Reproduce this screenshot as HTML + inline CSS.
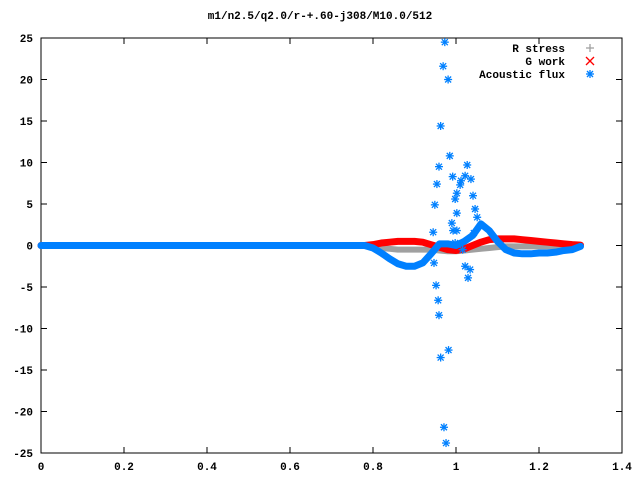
<!DOCTYPE html>
<html><head><meta charset="utf-8">
<style>
body{margin:0;background:#fff;}
svg{display:block;font-family:"Liberation Mono",monospace;font-size:11px;font-weight:bold;}
</style></head>
<body>
<svg id="chart" width="640" height="480" xmlns="http://www.w3.org/2000/svg">
<rect width="640" height="480" fill="#fff"/>
<text x="320" y="19" text-anchor="middle">m1/n2.5/q2.0/r-+.60-j308/M10.0/512</text>
<rect x="41" y="38" width="581" height="415" fill="none" stroke="#000" stroke-width="1"/>
<g id="axes"></g>
<g id="series"></g>
<g id="legend">
<text x="565" y="52" text-anchor="end">R stress</text>
<text x="565" y="65" text-anchor="end">G work</text>
<text x="565" y="78" text-anchor="end">Acoustic flux</text>
</g>
</svg>
<script>
const xTicks=[0,0.2,0.4,0.6,0.8,1,1.2,1.4];
const xTickLabels=["0","0.2","0.4","0.6","0.8","1","1.2","1.4"];
const yTicks=[-25,-20,-15,-10,-5,0,5,10,15,20,25];
const xs=[0,0.76,0.78,0.80,0.82,0.84,0.86,0.88,0.90,0.92,0.94,0.96,0.98,1.00,1.02,1.04,1.06,1.08,1.10,1.12,1.14,1.16,1.18,1.20,1.22,1.24,1.26,1.28,1.30];
const rStress=[0,0,0,-0.1,-0.3,-0.4,-0.5,-0.5,-0.5,-0.5,-0.5,-0.6,-0.7,-0.7,-0.6,-0.5,-0.4,-0.3,-0.2,-0.1,-0.1,-0.1,-0.1,-0.1,-0.1,-0.1,-0.1,0,0];
const gWork=[0,0,0,0.1,0.3,0.4,0.5,0.5,0.5,0.4,0.1,-0.2,-0.5,-0.6,-0.4,0,0.4,0.7,0.8,0.8,0.8,0.7,0.6,0.5,0.4,0.3,0.2,0.1,0.05];
const acoustic=[0,0,0,-0.3,-0.9,-1.6,-2.2,-2.5,-2.5,-2.1,-1.0,0.2,0.2,0,0.5,1.2,2.6,1.8,0.5,-0.5,-0.9,-1.0,-1.0,-0.9,-0.9,-0.8,-0.6,-0.5,-0.1];
const spikeX=[0.973,0.969,0.981,0.963,0.985,0.959,1.027,0.992,1.022,0.954,1.012,1.036,1.010,0.949,1.002,0.998,1.041,1.002,1.046,1.051,0.990,0.945,0.993,1.002,1.043,0.998,1.010,1.016,0.947,1.022,1.034,1.029,0.952,0.957,0.959,0.963,0.982,0.971,0.976];
const spikeY=[24.5,21.6,20.0,14.4,10.8,9.5,9.7,8.3,8.4,7.4,7.8,8.0,7.3,4.9,6.3,5.6,6.0,3.9,4.4,3.4,2.7,1.6,1.8,1.8,1.5,0.3,0.2,-0.5,-2.1,-2.5,-2.9,-3.9,-4.8,-6.6,-8.4,-13.5,-12.6,-21.9,-23.8];
const NS="http://www.w3.org/2000/svg";
function X(v){return 41+415*v;}
function Y(v){return 245.5-8.3*v;}
function mk(tag,at,parent){const e=document.createElementNS(NS,tag);for(const k in at)e.setAttribute(k,at[k]);parent.appendChild(e);return e;}
const axes=document.getElementById('axes');
xTicks.forEach((t,i)=>{
  const l=mk('line',{x1:X(t),x2:X(t),y1:453,y2:447,stroke:'#000'},axes);
  
  
  const l2=mk('line',{x1:X(t),x2:X(t),y1:38,y2:44,stroke:'#000'},axes);
  
  
  const tx=mk('text',{x:X(t),y:470,'text-anchor':'middle'},axes);
  tx.textContent=xTickLabels[i];
  
  
});
yTicks.forEach(t=>{
  const l=mk('line',{x1:41,x2:47,y1:Y(t),y2:Y(t),stroke:'#000'},axes);
  
  
  const l2=mk('line',{x1:616,x2:622,y1:Y(t),y2:Y(t),stroke:'#000'},axes);
  
  
  const tx=mk('text',{x:33,y:Y(t)+4,'text-anchor':'end'},axes);
  tx.textContent=String(t);
  
  
});
const series=document.getElementById('series');
function band(vals,color,w,name){
  const pts=xs.map((x,i)=>X(x)+','+Y(vals[i])).join(' ');
  const p=mk('polyline',{points:pts,fill:'none',stroke:color,'stroke-width':w,'stroke-linejoin':'round','stroke-linecap':'round'},series);
  
  
}
band(rStress,'#a0a0a0',6,'r-stress-series');
band(gWork,'#ff0000',7,'g-work-series');
band(acoustic,'#0080ff',7,'acoustic-flux-series');
function star(cx,cy,color,parent){
  const g=mk('g',{stroke:color,'stroke-width':1.3},parent);
  mk('line',{x1:cx-4,x2:cx+4,y1:cy,y2:cy},g);
  mk('line',{x1:cx,x2:cx,y1:cy-4,y2:cy+4},g);
  mk('line',{x1:cx-3,x2:cx+3,y1:cy-3,y2:cy+3},g);
  mk('line',{x1:cx-3,x2:cx+3,y1:cy+3,y2:cy-3},g);
  return g;
}
spikeX.forEach((x,i)=>{
  const g=star(X(x),Y(spikeY[i]),'#0080ff',series);
  
  
});
const lg=document.getElementById('legend');
const p1=mk('g',{stroke:'#a0a0a0','stroke-width':1.3},lg);
mk('line',{x1:586,x2:594,y1:48,y2:48},p1);mk('line',{x1:590,x2:590,y1:44,y2:52},p1);


const p2=mk('g',{stroke:'#ff0000','stroke-width':1.3},lg);
mk('line',{x1:586,x2:594,y1:57,y2:65},p2);mk('line',{x1:586,x2:594,y1:65,y2:57},p2);


const p3=star(590,74,'#0080ff',lg);


</script>
</body></html>
